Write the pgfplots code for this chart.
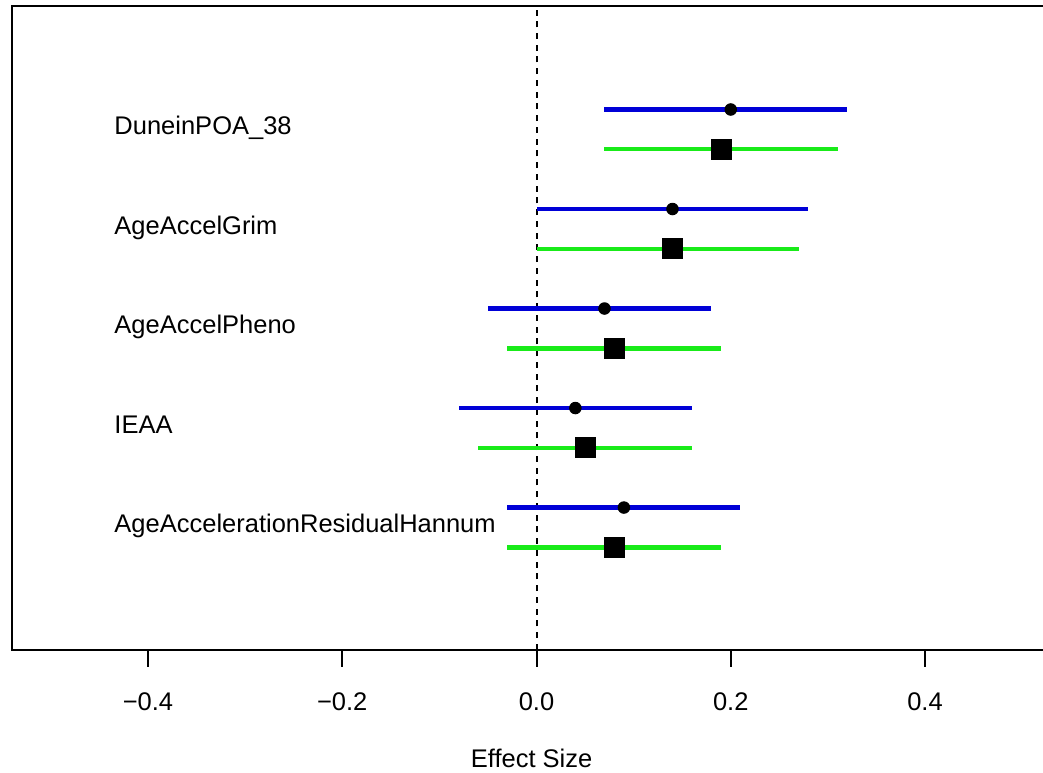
\documentclass[border=0pt]{standalone}
\usepackage{fontspec}
\setmainfont{Liberation Sans}
\usepackage{pgfplots}
\usepackage{pgfplotstable}
\pgfplotsset{compat=1.18}

\definecolor{ciblue}{RGB}{0,0,215}
\definecolor{cigreen}{RGB}{25,235,25}

% row position, estimate, lower, upper
\pgfplotstableread{
y   est   lo     hi
5.2 0.20  0.07   0.32
4.2 0.14  0.00   0.28
3.2 0.07  -0.05  0.18
2.2 0.04  -0.08  0.16
1.2 0.09  -0.03  0.21
}\bluetab

\pgfplotstableread{
y   est   lo     hi
4.8 0.19  0.07   0.31
3.8 0.14  0.00   0.27
2.8 0.08  -0.03  0.19
1.8 0.05  -0.06  0.16
0.8 0.08  -0.03  0.19
}\greentab

\begin{document}
\begin{tikzpicture}
\begin{axis}[
    scale only axis,
    width=419.7pt, height=257.6pt,
    xmin=-0.54, xmax=0.54,
    ymin=-0.23, ymax=6.24,
    axis line style={line width=0.8pt},
    xtick={-0.4,-0.2,0,0.2,0.4},
    xticklabels={−0.4,−0.2,0.0,0.2,0.4},
    xtick pos=left,
    ytick=\empty,
    tick align=outside,
    major tick length=6.8pt,
    tick style={black, line width=0.8pt},
    xticklabel style={font=\fontsize{10.2}{12}\selectfont, anchor=base, yshift=-17.6pt},
    xlabel={Effect Size},
    xlabel style={font=\fontsize{10.2}{12}\selectfont, anchor=base, at={(axis cs:-0.005,-0.23)}, yshift=-47.2pt},
    clip=false,
]

\addplot[black, line width=0.8pt, dash pattern=on 2.4pt off 2.3pt] coordinates {(0,-0.23) (0,6.2)};

\addplot[only marks, mark=*, mark size=2.3pt, black,
    error bars/.cd, x dir=both, x explicit, error mark=none,
    error bar style={ciblue, line width=1.75pt}]
    table[x=est, y=y,
          x error plus expr=\thisrow{hi}-\thisrow{est},
          x error minus expr=\thisrow{est}-\thisrow{lo}] {\bluetab};

\addplot[only marks, mark=square*, mark size=4pt, black,
    mark options={rounded corners=1.2pt},
    error bars/.cd, x dir=both, x explicit, error mark=none,
    error bar style={cigreen, line width=1.75pt}]
    table[x=est, y=y,
          x error plus expr=\thisrow{hi}-\thisrow{est},
          x error minus expr=\thisrow{est}-\thisrow{lo}] {\greentab};

\begin{scope}[every node/.style={anchor=base west, font=\fontsize{10.2}{12}\selectfont, inner sep=0pt}]
\node at (axis cs:-0.435,4.945) {DuneinPOA\_38};
\node at (axis cs:-0.435,3.945) {AgeAccelGrim};
\node at (axis cs:-0.435,2.945) {AgeAccelPheno};
\node at (axis cs:-0.435,1.945) {IEAA};
\node at (axis cs:-0.435,0.945) {AgeAccelerationResidualHannum};
\end{scope}
\end{axis}
\pgfresetboundingbox
\path ([shift={(-4.8pt,-49.2pt)}]current axis.south west) rectangle ([shift={(-7.2pt,2.4pt)}]current axis.north east);
\end{tikzpicture}
\end{document}
